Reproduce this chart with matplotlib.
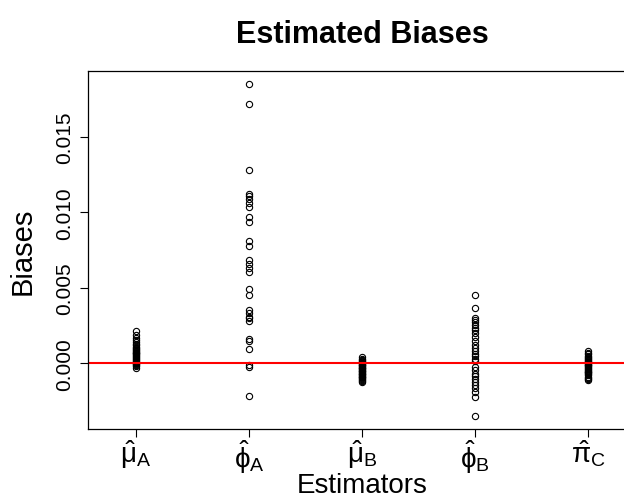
import numpy as np
import matplotlib
matplotlib.use("Agg")
import matplotlib.pyplot as plt

plt.rcParams['font.family'] = ['Liberation Sans', 'DejaVu Sans']
plt.rcParams['mathtext.fontset'] = 'custom'
plt.rcParams['mathtext.rm'] = 'Liberation Sans'
plt.rcParams['mathtext.it'] = 'Liberation Sans'
plt.rcParams['mathtext.bf'] = 'Liberation Sans:bold'

# estimator labels (R plotmath style hats)
labels = [r'$\hat{\mu}_\mathrm{A}$', r'$\hat{\phi}_\mathrm{A}$', r'$\hat{\mu}_\mathrm{B}$',
          r'$\hat{\phi}_\mathrm{B}$', r'$\hat{\pi}_\mathrm{C}$']

# biases, one list per estimator
mu_a = [0.00213, 0.00185, 0.00165, 0.00152, 0.00140, 0.00128, 0.00118, 0.00110, 0.00102,
        0.00095, 0.00088, 0.00082, 0.00076, 0.00070, 0.00064, 0.00058, 0.00052, 0.00046,
        0.00040, 0.00034, 0.00028, 0.00022, 0.00016, 0.00010, 0.00004, -0.00002, -0.00008,
        -0.00015, -0.00022, -0.00033]
phi_a = [0.0185, 0.01722, 0.01284, 0.01124, 0.01107, 0.01089, 0.01062, 0.01033, 0.00969,
         0.00935, 0.00811, 0.00777, 0.00684, 0.00657, 0.00633, 0.00602, 0.00489, 0.00455,
         0.00351, 0.00335, 0.00307, 0.00298, 0.00277, 0.00162, 0.00148, 0.00095, -0.00011,
         -0.00027, -0.00216]
mu_b = [0.00040, 0.00030, 0.00022, 0.00015, 0.00008, 0.00002, -0.00004, -0.00010, -0.00015,
        -0.00020, -0.00025, -0.00030, -0.00035, -0.00040, -0.00045, -0.00050, -0.00055,
        -0.00060, -0.00065, -0.00070, -0.00075, -0.00080, -0.00085, -0.00090, -0.00095,
        -0.00100, -0.00106, -0.00112, -0.00118, -0.00125]
phi_b = [0.00450, 0.00367, 0.00300, 0.00285, 0.00270, 0.00250, 0.00232, 0.00218, 0.00200,
         0.00172, 0.00150, 0.00122, 0.00100, 0.00082, 0.00062, 0.00045, 0.00029, 0.00012,
         -0.00027, -0.00048, -0.00070, -0.00085, -0.00102, -0.00122, -0.00142, -0.00162,
         -0.00190, -0.00227, -0.00349]
pi_c = [0.00080, 0.00068, 0.00058, 0.00050, 0.00042, 0.00035, 0.00028, 0.00022, 0.00016,
        0.00010, 0.00005, 0.00000, -0.00005, -0.00010, -0.00015, -0.00020, -0.00026,
        -0.00032, -0.00038, -0.00044, -0.00050, -0.00056, -0.00062, -0.00068, -0.00075,
        -0.00082, -0.00090, -0.00098, -0.00105, -0.00110]

groups = [mu_a, phi_a, mu_b, phi_b, pi_c]

fig = plt.figure(figsize=(6.24, 5.02), dpi=100)
ax = fig.add_axes([88 / 624, 72 / 502, 548 / 624, 358 / 502])

for i, vals in enumerate(groups):
    ax.plot(np.full(len(vals), i + 1), vals, linestyle='none', marker='o',
            markersize=4.5, markerfacecolor='none', markeredgecolor='black',
            markeredgewidth=0.8)

ax.axhline(0, color='red', linewidth=1.5)

allv = np.concatenate([np.array(g) for g in groups])
lo, hi = allv.min(), allv.max()
pad = 0.04 * (hi - lo)
ax.set_ylim(lo - pad, hi + pad)
ax.set_xlim(0.575, 5.425)

ax.set_xticks(range(1, 6))
ax.set_xticklabels(labels, fontsize=20)
ax.set_yticks([0.0, 0.005, 0.010, 0.015])
ax.set_yticklabels(['0.000', '0.005', '0.010', '0.015'], fontsize=15,
                   rotation=90, va='center')
ax.tick_params(axis='both', direction='out', length=6, width=0.8, colors='black')
ax.tick_params(axis='x', pad=0)
ax.tick_params(axis='y', pad=4)
for s in ax.spines.values():
    s.set_linewidth(0.9)

ax.set_xlabel('Estimators', fontsize=20, va='center')
ax.xaxis.set_label_coords(0.5, (430 - 486) / 358)
ax.set_ylabel('Biases', fontsize=21, va='center')
ax.yaxis.set_label_coords((23 - 88) / 548, 0.5)
ax.set_title('Estimated Biases', fontsize=22, fontweight='bold', pad=21)

fig.savefig('out.png', dpi=100)
